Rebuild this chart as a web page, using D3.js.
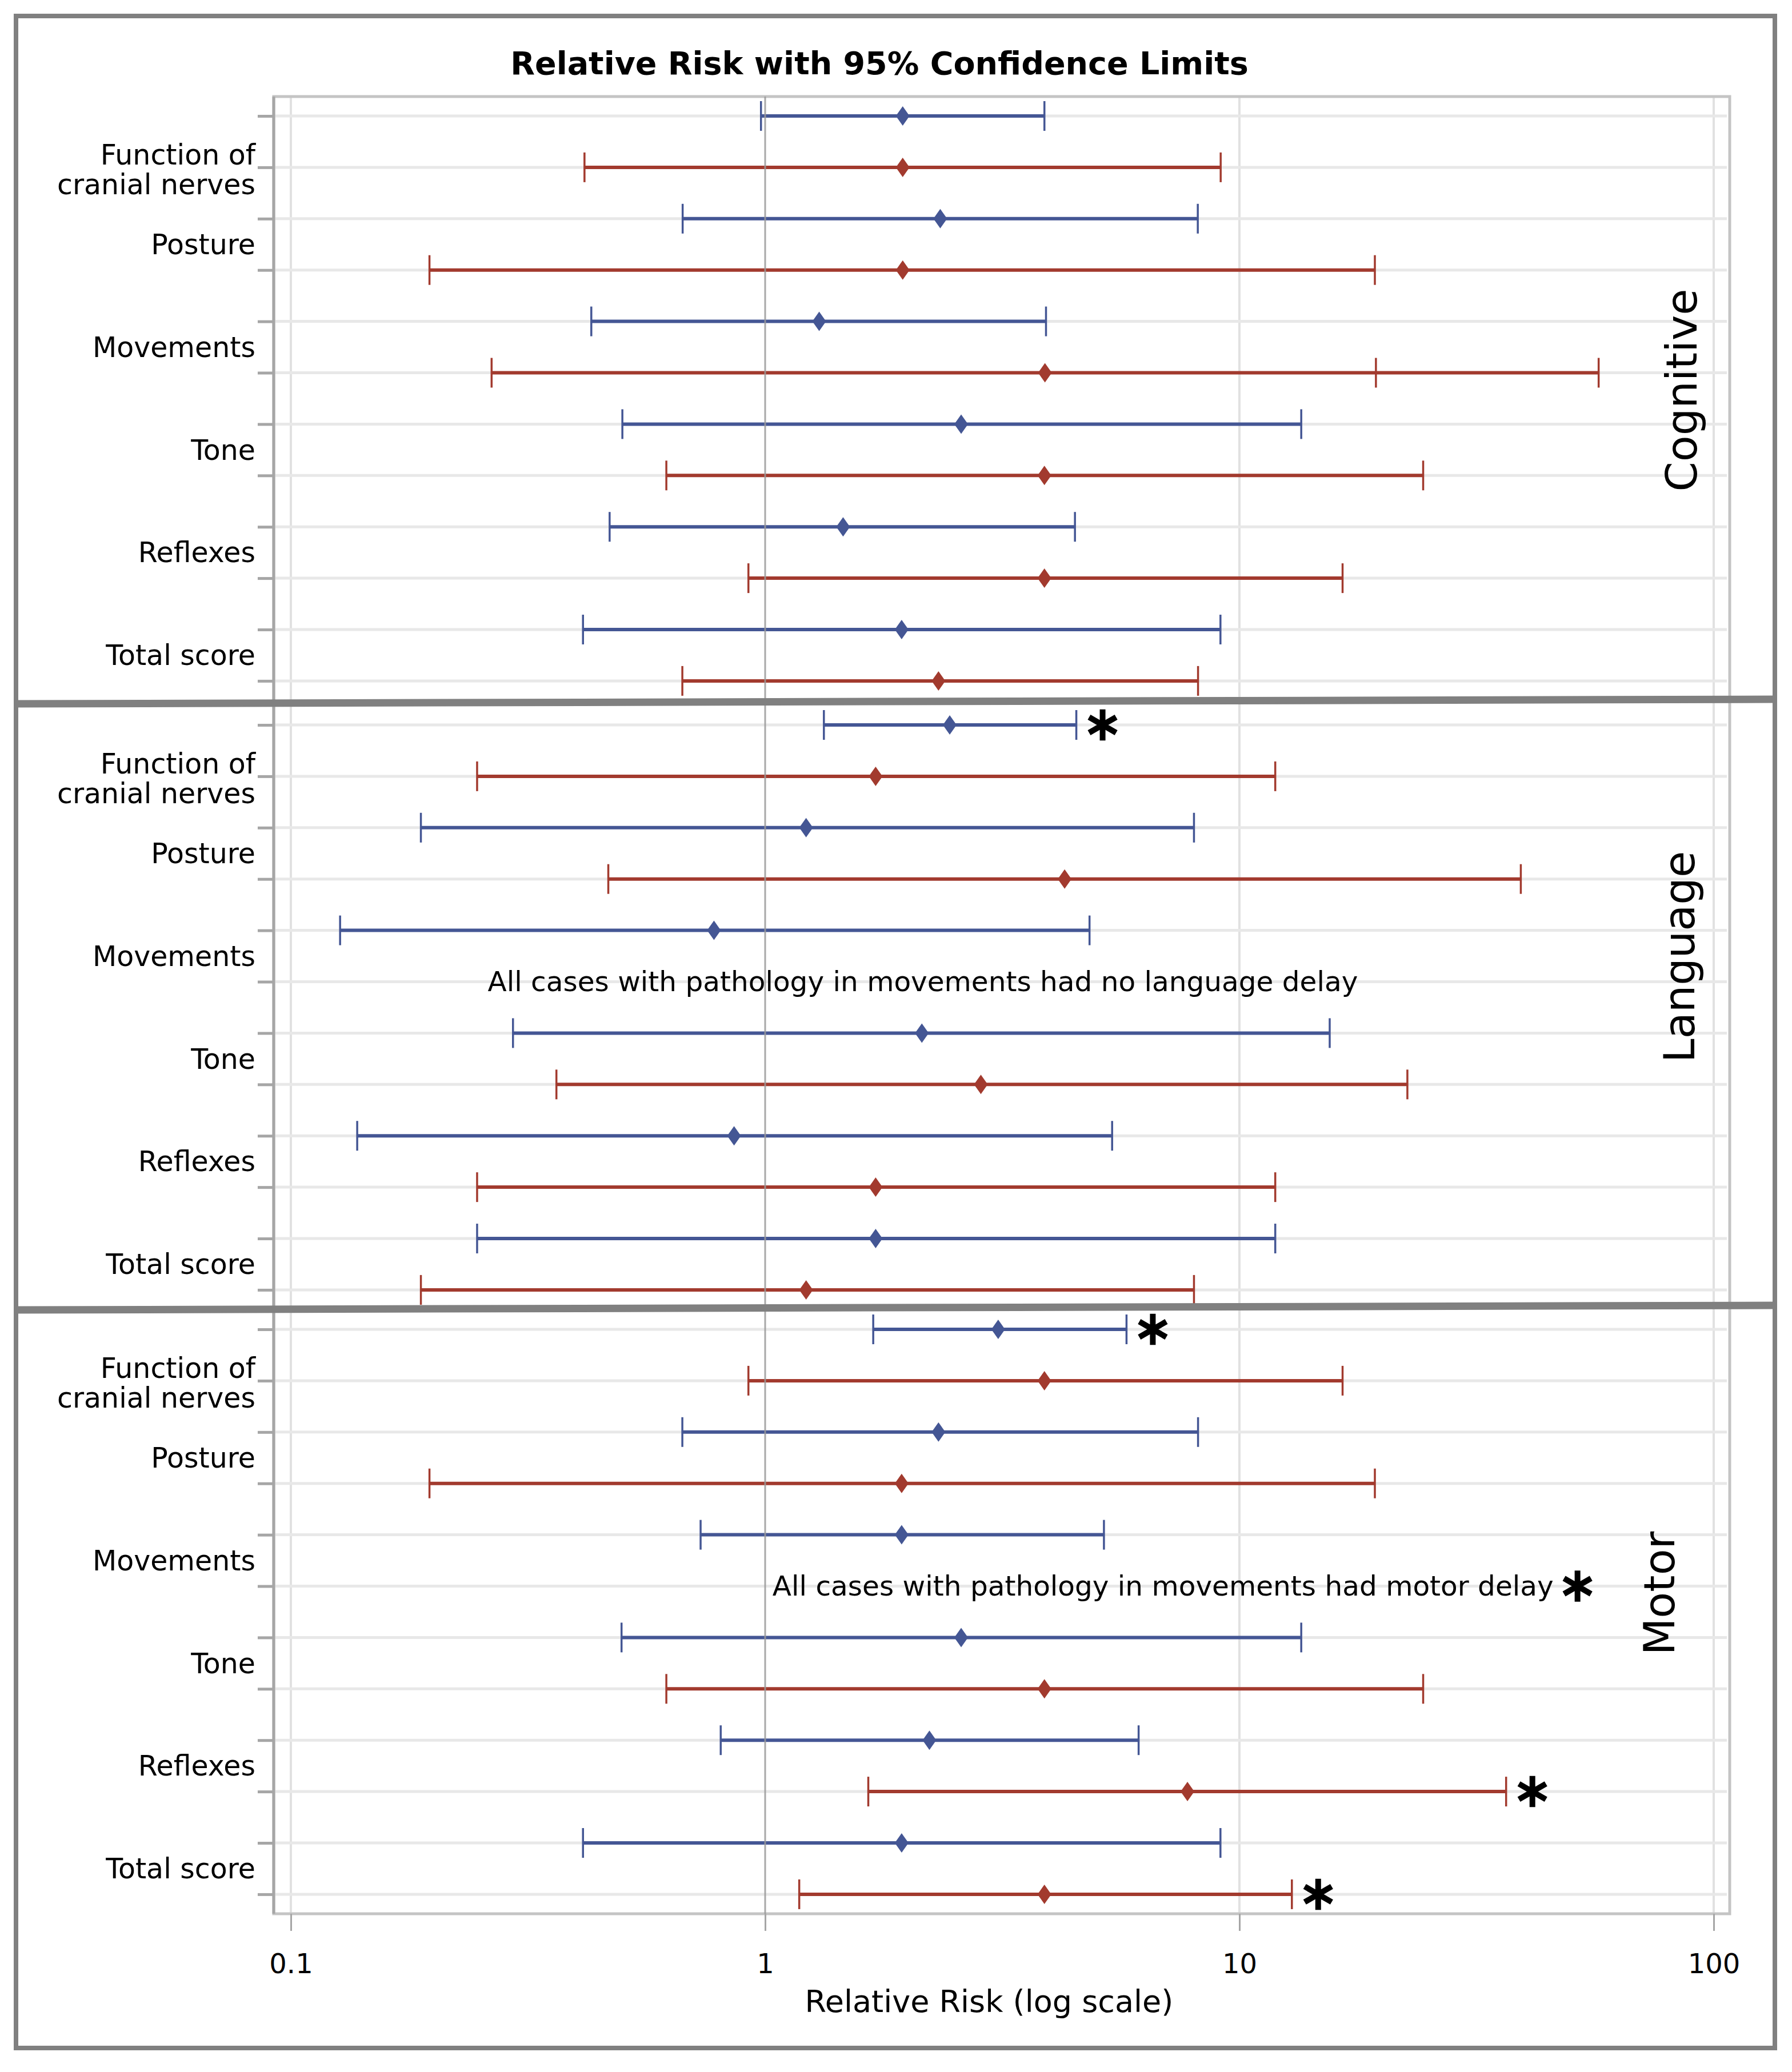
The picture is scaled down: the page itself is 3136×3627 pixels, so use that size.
<!DOCTYPE html>
<html>
<head>
<meta charset="utf-8">
<script src="https://cdn.jsdelivr.net/npm/d3@7"></script>
<style>
  body { margin: 0; background: #fff; }
  text { font-family: "DejaVu Sans", sans-serif; fill: #000; }
</style>
</head>
<body>
<svg id="chart" width="3136" height="3627"></svg>
<script>
const panels = ["Cognitive", "Language", "Motor"];
const items = ["Function of cranial nerves", "Posture", "Movements", "Tone", "Reflexes", "Total score"];
const series = ["blue", "red"];
const xTicks = [0.1, 1, 10, 100];
const xTickLabels = ["0.1", "1", "10", "100"];

// [lower, RR, upper] for each item, in the order of `items`
const cognitiveBlue = [[0.98, 1.95, 3.88], [0.67, 2.34, 8.17], [0.43, 1.30, 3.91], [0.50, 2.59, 13.5], [0.47, 1.46, 4.50], [0.413, 1.94, 9.12]];
const cognitiveRed  = [[0.416, 1.95, 9.13], [0.196, 1.95, 19.3], [0.265, 3.89, 57.2], [0.619, 3.88, 24.4], [0.922, 3.88, 16.5], [0.669, 2.32, 8.18]];
const languageBlue  = [[1.33, 2.45, 4.53], [0.188, 1.22, 8.02], [0.127, 0.78, 4.83], [0.294, 2.14, 15.5], [0.138, 0.86, 5.39], [0.247, 1.71, 11.9]];
const languageRed   = [[0.247, 1.71, 11.9], [0.467, 4.28, 39.2], null, [0.363, 2.85, 22.6], [0.247, 1.71, 11.9], [0.188, 1.22, 8.02]];
const motorBlue     = [[1.69, 3.10, 5.78], [0.669, 2.32, 8.18], [0.731, 1.94, 5.18], [0.498, 2.59, 13.5], [0.806, 2.22, 6.13], [0.413, 1.94, 9.12]];
const motorRed      = [[0.922, 3.88, 16.5], [0.196, 1.94, 19.3], null, [0.619, 3.88, 24.4], [1.65, 7.77, 36.5], [1.18, 3.88, 12.9]];

// second cap drawn on the cognitive / movements red bar
const extraCaps = [["Cognitive", "Movements", "red", 19.4]];
// significant rows (asterisk after the upper limit)
const starred = [["Language", "Function of cranial nerves", "blue"], ["Motor", "Function of cranial nerves", "blue"],
                 ["Motor", "Reflexes", "red"], ["Motor", "Total score", "red"]];
const notes = [["Language", "All cases with pathology in movements had no language delay", false],
               ["Motor", "All cases with pathology in movements had motor delay", true]];

const colors = {blue: "#445694", red: "#A23A2E"};
const ci = {
  Cognitive: {blue: cognitiveBlue, red: cognitiveRed},
  Language: {blue: languageBlue, red: languageRed},
  Motor: {blue: motorBlue, red: motorRed}
};

const W = 3136, H = 3627;
const svg = d3.select("#chart");
svg.append("rect").attr("width", W).attr("height", H).attr("fill", "#fff");

const plot = {left: 479, right: 3027, top: 169, bottom: 3350};
const x = d3.scaleLog().domain([0.1, 100]).range([509, 2999]);

// each panel has its own row scale (panels are stacked with a slightly tighter gap)
const panelTop = [203, 1269, 2327];
const rowStep = 89.9;
const rowKeys = items.flatMap(it => series.map(s => it + "|" + s));
const yScales = panelTop.map(t => d3.scalePoint().domain(rowKeys).range([t, t + rowStep * (rowKeys.length - 1)]));

const rows = [];
panels.forEach((p, pi) => items.forEach((it, ii) => series.forEach(s => {
  rows.push({panel: p, pi: pi, item: it, ii: ii, series: s,
             y: yScales[pi](it + "|" + s), v: ci[p][s][ii]});
})));
const findRow = (p, it, s) => rows.find(r => r.panel === p && r.item === it && r.series === s);

// vertical grid
svg.append("g").selectAll("line")
  .data(xTicks.filter(d => d !== 1))
  .join("line")
  .attr("x1", d => x(d)).attr("x2", d => x(d))
  .attr("y1", plot.top).attr("y2", plot.bottom)
  .attr("stroke", "#e1e1e1").attr("stroke-width", 4);

// horizontal grid
svg.append("g").selectAll("line")
  .data(rows)
  .join("line")
  .attr("x1", plot.left + 3).attr("x2", plot.right - 5)
  .attr("y1", d => d.y).attr("y2", d => d.y)
  .attr("stroke", "#e8e8e8").attr("stroke-width", 5);

// frame
svg.append("rect")
  .attr("x", plot.left).attr("y", plot.top)
  .attr("width", plot.right - plot.left).attr("height", plot.bottom - plot.top)
  .attr("fill", "none").attr("stroke", "#c4c4c4").attr("stroke-width", 5);
svg.append("line")
  .attr("x1", plot.left).attr("x2", plot.left).attr("y1", plot.top).attr("y2", plot.bottom)
  .attr("stroke", "#a6a6a6").attr("stroke-width", 5);

// y ticks
yScales.forEach(ys => {
  const g = svg.append("g").attr("transform", `translate(${plot.left},0)`)
    .call(d3.axisLeft(ys).tickSize(28).tickFormat(""));
  g.select(".domain").remove();
  g.selectAll(".tick line").attr("stroke", "#a6a6a6").attr("stroke-width", 5);
});

// x axis
const xa = svg.append("g").attr("transform", `translate(0,${plot.bottom})`)
  .call(d3.axisBottom(x).tickValues(xTicks).tickFormat((d, i) => xTickLabels[i]).tickSize(30).tickPadding(40));
xa.select(".domain").remove();
xa.selectAll(".tick line").attr("stroke", "#a6a6a6").attr("stroke-width", 3);
xa.selectAll(".tick text").attr("font-size", 48).attr("font-family", "DejaVu Sans").attr("fill", "#000");

// error bars
const bars = svg.append("g").selectAll("g")
  .data(rows.filter(r => r.v))
  .join("g")
  .attr("stroke", d => colors[d.series]).attr("fill", d => colors[d.series]);
bars.append("line")
  .attr("x1", d => x(d.v[0])).attr("x2", d => x(d.v[2]))
  .attr("y1", d => d.y).attr("y2", d => d.y)
  .attr("stroke-width", 6);
bars.selectAll("line.cap")
  .data(d => [d.v[0], d.v[2]].map(v => ({v: v, y: d.y})))
  .join("line").attr("class", "cap")
  .attr("x1", d => x(d.v)).attr("x2", d => x(d.v))
  .attr("y1", d => d.y - 26).attr("y2", d => d.y + 26)
  .attr("stroke-width", 3.5);
bars.append("path")
  .attr("stroke", "none")
  .attr("d", d => {
    const cx = x(d.v[1]), cy = d.y;
    return `M${cx},${cy - 17}L${cx + 12},${cy}L${cx},${cy + 17}L${cx - 12},${cy}Z`;
  });

svg.append("g").selectAll("line")
  .data(extraCaps)
  .join("line")
  .attr("x1", d => x(d[3])).attr("x2", d => x(d[3]))
  .attr("y1", d => findRow(d[0], d[1], d[2]).y - 26)
  .attr("y2", d => findRow(d[0], d[1], d[2]).y + 26)
  .attr("stroke", d => colors[d[2]]).attr("stroke-width", 3.5);

// reference line at RR = 1
svg.append("line")
  .attr("x1", x(1)).attr("x2", x(1)).attr("y1", plot.top).attr("y2", plot.bottom)
  .attr("stroke", "#9a9a9a").attr("stroke-width", 3).attr("opacity", 0.85);

// asterisks
const star = d3.symbol(d3.symbolAsterisk || d3.symbolCross, 2100);
function drawStar(cx, cy) {
  svg.append("path")
    .attr("transform", `translate(${cx},${cy})`)
    .attr("d", star())
    .attr("fill", "none").attr("stroke", "#000").attr("stroke-width", 10);
}
starred.forEach(s => {
  const r = findRow(s[0], s[1], s[2]);
  drawStar(x(r.v[2]) + 46, r.y);
});

// notes in place of the missing bars
const noteAnchor = {Language: 2.15, Motor: 6.9};
notes.forEach(n => {
  const r = findRow(n[0], "Movements", "red");
  const t = svg.append("text")
    .attr("x", x(noteAnchor[n[0]])).attr("y", r.y).attr("dy", "0.35em")
    .attr("text-anchor", "middle").attr("font-size", 48.5)
    .text(n[1]);
  if (n[2]) {
    const bb = t.node().getBBox();
    drawStar(bb.x + bb.width + 42, r.y);
  }
});

// category labels
const labels = svg.append("g").attr("font-size", 49).attr("text-anchor", "end");
panels.forEach((p, pi) => items.forEach(it => {
  const mid = (yScales[pi](it + "|blue") + yScales[pi](it + "|red")) / 2;
  if (it === "Function of cranial nerves") {
    labels.append("text").attr("x", 447).attr("y", mid + 23).attr("dy", "0.35em").text("Function of");
    labels.append("text").attr("x", 447).attr("y", mid + 75).attr("dy", "0.35em").text("cranial nerves");
  } else {
    labels.append("text").attr("x", 447).attr("y", mid).attr("dy", "0.35em").text(it);
  }
}));

// panel names on the right
const panelLabelPos = [[2943, 683], [2939, 1675], [2904, 2789]];
panels.forEach((p, pi) => {
  svg.append("text")
    .attr("transform", `translate(${panelLabelPos[pi][0]},${panelLabelPos[pi][1]}) rotate(-90)`)
    .attr("text-anchor", "middle").attr("dy", "0.35em")
    .attr("font-size", 75)
    .text(p);
});

// titles
svg.append("text")
  .attr("x", 1539).attr("y", 111).attr("dy", "0.35em")
  .attr("text-anchor", "middle").attr("font-size", 55.5).attr("font-weight", "bold")
  .text("Relative Risk with 95% Confidence Limits");
svg.append("text")
  .attr("x", 1731).attr("y", 3503).attr("dy", "0.35em")
  .attr("text-anchor", "middle").attr("font-size", 54)
  .text("Relative Risk (log scale)");

// outer border and panel separators
svg.append("rect")
  .attr("x", 28).attr("y", 28).attr("width", 3078).attr("height", 3557)
  .attr("fill", "none").attr("stroke", "#808080").attr("stroke-width", 8);
const separators = [[1232, 1224], [2293, 2285]];
svg.append("g").selectAll("line")
  .data(separators)
  .join("line")
  .attr("x1", 24).attr("x2", 3110)
  .attr("y1", d => d[0]).attr("y2", d => d[1])
  .attr("stroke", "#808080").attr("stroke-width", 13);
</script>
</body>
</html>
